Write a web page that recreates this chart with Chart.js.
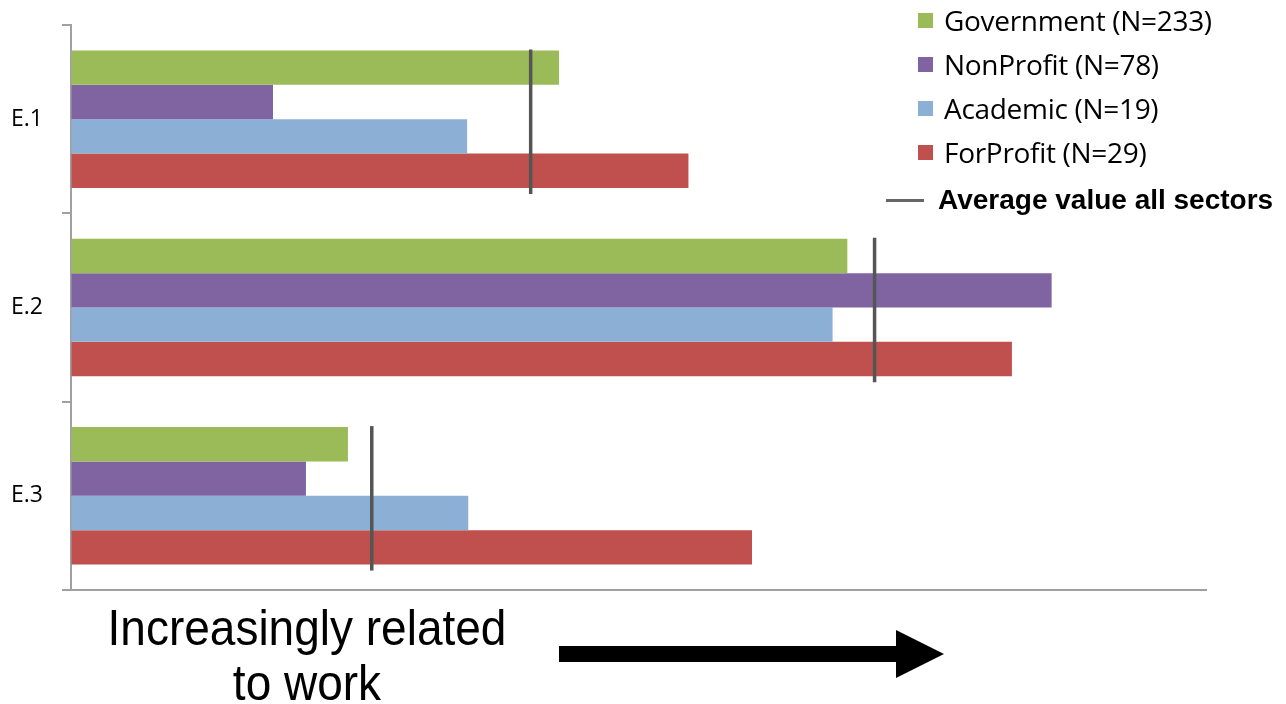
<!DOCTYPE html>
<html>
<head>
<meta charset="utf-8">
<script src="https://cdn.jsdelivr.net/npm/chart.js@4.4.1/dist/chart.umd.min.js"></script>
<style>
    html, body { margin: 0; padding: 0; background: #fff; }
    #wrap { position: relative; width: 1286px; height: 704px; }
    #chart { position: absolute; left: 0; top: 0; }
    #legend { position: absolute; left: 886px; top: 0; font-family: "Open Sans", sans-serif; color: #000; }
    .row { position: absolute; left: 0; height: 30px; white-space: nowrap; display: flex; align-items: center; }
    .box { position: absolute; left: 32px; width: 15px; height: 15px; }
    .lbl { position: absolute; left: 58px; font-size: 28px; line-height: 30px; letter-spacing: -0.3px; }
    .avgLine { position: absolute; left: 0; width: 38px; height: 3px; background: #666; }
    .avgLbl { position: absolute; left: 52px; font-family: "Liberation Sans", Arial, sans-serif; font-weight: bold; font-size: 28px; line-height: 30px; }
    #caption { position: absolute; left: 60px; top: 600px; width: 494px; text-align: center; font-family: "Liberation Sans", Arial, sans-serif; font-size: 46px; line-height: 50px; color: #000; transform: scaleY(1.1); transform-origin: top; }
    #arrow { position: absolute; left: 0; top: 0; }
</style>
</head>
<body>
<div id="wrap">
    <canvas id="chart" width="1286" height="704"></canvas>
    <div id="legend"></div>
    <div id="caption">Increasingly related<br>to work</div>
    <svg id="arrow" width="1286" height="704">
        <polygon points="559,646 896,646 896,630 944,654 896,678 896,662 559,662" fill="#000"/>
    </svg>
</div>
<script>
const categories = ['E.1', 'E.2', 'E.3'];
const seriesNames = ['Government (N=233)', 'NonProfit (N=78)', 'Academic (N=19)', 'ForProfit (N=29)'];
const seriesColors = ['#9bbb59', '#8064a2', '#8cafd6', '#c0504d'];
const government = [43.0, 68.4, 24.4];
const nonProfit = [17.8, 86.4, 20.7];
const academic = [34.9, 67.1, 35.0];
const forProfit = [54.4, 82.9, 60.0];
const averageAll = [40.5, 70.8, 26.5];
const averageLabel = 'Average value all sectors';

const seriesValues = [government, nonProfit, academic, forProfit];
const groupPercent = 0.73;

// vertical marker for the all-sector average in each category
const averageLines = {
    id: 'averageLines',
    afterDatasetsDraw(chart) {
        const ctx = chart.ctx;
        const xs = chart.scales.x;
        const ys = chart.scales.y;
        const band = (ys.getPixelForValue(1) - ys.getPixelForValue(0));
        ctx.save();
        ctx.strokeStyle = '#555';
        ctx.lineWidth = 3.5;
        averageAll.forEach((v, i) => {
            const x = xs.getPixelForValue(v);
            const yc = ys.getPixelForValue(i);
            ctx.beginPath();
            ctx.moveTo(x, yc - band * groupPercent / 2 - 1);
            ctx.lineTo(x, yc + band * groupPercent / 2 + 6);
            ctx.stroke();
        });
        ctx.restore();
    }
};

const ctx = document.getElementById('chart');
new Chart(ctx, {
    type: 'bar',
    data: {
        labels: categories,
        datasets: seriesNames.map((name, i) => ({
            label: name,
            data: seriesValues[i],
            backgroundColor: seriesColors[i],
            borderWidth: 0,
            barPercentage: 1,
            categoryPercentage: groupPercent
        }))
    },
    options: {
        indexAxis: 'y',
        responsive: false,
        animation: false,
        layout: { padding: { left: 0, top: 25, right: 80, bottom: 114 } },
        plugins: {
            legend: { display: false },
            tooltip: { enabled: false }
        },
        scales: {
            x: {
                min: 0,
                max: 100,
                ticks: { display: false },
                grid: { drawOnChartArea: false, drawTicks: false },
                border: { color: '#a0a0a0', width: 2 },
                afterFit: (scale) => { scale.height = 0; }
            },
            y: {
                grid: { offset: true, drawOnChartArea: false, tickLength: 9, color: '#a0a0a0', lineWidth: 2 },
                border: { color: '#a0a0a0', width: 2 },
                ticks: { color: '#000', padding: 19, font: { family: 'Open Sans', size: 23 } },
                afterFit: (scale) => {
                    scale.width = 71;
                    scale.paddingTop = 0;
                    scale.paddingBottom = 0;
                }
            }
        }
    },
    plugins: [averageLines]
});

// legend in the top right corner
const legend = document.getElementById('legend');
seriesNames.forEach((name, i) => {
    const row = document.createElement('div');
    row.className = 'row';
    row.style.top = (5 + i * 44) + 'px';
    row.innerHTML = '<span class="box" style="background:' + seriesColors[i] + '"></span><span class="lbl">' + name + '</span>';
    legend.appendChild(row);
});
const avgRow = document.createElement('div');
avgRow.className = 'row';
avgRow.style.top = '185px';
avgRow.innerHTML = '<span class="avgLine"></span><span class="avgLbl">' + averageLabel + '</span>';
legend.appendChild(avgRow);
</script>
</body>
</html>
